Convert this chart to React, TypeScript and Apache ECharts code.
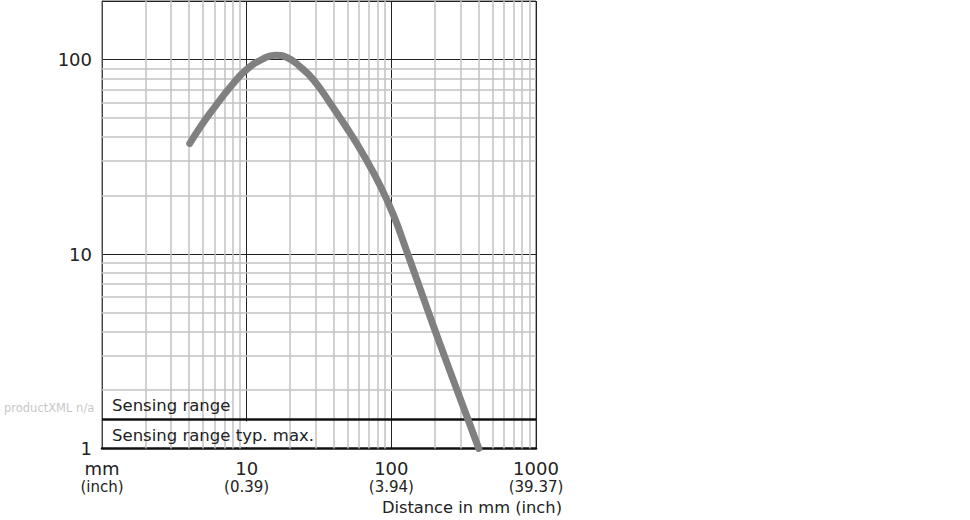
import React, { useEffect, useRef } from "react";
import * as echarts from "echarts";

// Curve: distance (mm) vs. relative value
const distanceMm = [4.04, 4.78, 5.91, 7.71, 10, 13.1, 15.8, 19.0, 23.5, 29.1, 37.9, 49.5, 64.4, 84.1, 104, 128.6, 204, 340, 402];
const rangeValue = [37.0, 45.0, 56.0, 72.3, 88.9, 101.2, 105.2, 102.4, 91.6, 78.3, 59.4, 44.2, 32.2, 22.3, 15.7, 10.2, 3.9, 1.4, 1.0];

// Axis ticks
const xTickValues = [1, 10, 100, 1000];
const xTickMm = ["mm", "10", "100", "1000"];
const xTickInch = ["(inch)", "(0.39)", "(3.94)", "(39.37)"];
const yTickValues = [1, 10, 100];
const yTickLabels = ["1", "10", "100"];

// Minor grid lines
const xMinor = [2, 3, 4, 5, 6, 7, 8, 9, 20, 30, 40, 50, 60, 70, 80, 90, 200, 300, 400, 500, 600, 700, 800, 900];
const yMinor = [2, 3, 4, 5, 6, 7, 8, 9, 20, 30, 40, 50, 60, 70, 80, 90];

// Sensing range boundary
const sensingRangeLimit = 1.41;

const FONT = "DejaVu Sans";

function findIdx(ticks: number[], v: number) {
  for (let i = 0; i < ticks.length; i++) {
    if (Math.abs(Math.log10(v) - Math.log10(ticks[i])) < 1e-6) return i;
  }
  return -1;
}

export default function App() {
  const ref = useRef<HTMLDivElement>(null);
  useEffect(() => {
    if (!ref.current) return;
    const chart = echarts.init(ref.current, null, { renderer: "svg" });
    const curve = distanceMm.map((x, i) => [x, rangeValue[i]]);
    chart.setOption({
      animation: false,
      grid: {
        left: 102,
        top: 1,
        width: 434,
        height: 447.5,
        show: true,
        borderColor: "#555",
        borderWidth: 1,
        backgroundColor: "#fff",
      },
      xAxis: {
        type: "log",
        logBase: 10,
        min: 1,
        max: 1000,
        axisLine: { show: true, onZero: false, lineStyle: { color: "#111", width: 2.5 } },
        axisTick: { show: false },
        splitLine: { show: true, lineStyle: { color: "#222", width: 1 } },
        axisLabel: {
          margin: 10,
          showMinLabel: true,
          showMaxLabel: true,
          formatter: (v: number) => {
            const i = findIdx(xTickValues, v);
            if (i < 0) return "";
            return `{a|${xTickMm[i]}}\n{b|${xTickInch[i]}}`;
          },
          rich: {
            a: { fontSize: 18, lineHeight: 20, color: "#222", fontFamily: FONT },
            b: { fontSize: 15, lineHeight: 17, color: "#222", fontFamily: FONT },
          },
        },
      },
      yAxis: {
        type: "log",
        logBase: 10,
        min: 1,
        max: 200,
        axisLine: { show: true, lineStyle: { color: "#444", width: 1 } },
        axisTick: { show: false },
        splitLine: { show: true, lineStyle: { color: "#222", width: 1 } },
        axisLabel: {
          margin: 10,
          fontSize: 18,
          color: "#222",
          fontFamily: FONT,
          formatter: (v: number) => {
            const i = findIdx(yTickValues, v);
            return i < 0 ? "" : yTickLabels[i];
          },
        },
      },
      series: [
        {
          type: "line",
          data: [],
          z: 1,
          silent: true,
          markLine: {
            silent: true,
            symbol: ["none", "none"],
            label: { show: false },
            lineStyle: { color: "#c2c2c2", width: 1.5, type: "solid" },
            data: [
              ...xMinor.map((v) => ({ xAxis: v })),
              ...yMinor.map((v) => ({ yAxis: v })),
            ],
          },
        },
        {
          type: "line",
          data: curve,
          z: 10,
          smooth: 0.5,
          showSymbol: false,
          silent: true,
          lineStyle: { color: "#808080", width: 7, cap: "round", join: "round" },
          markLine: {
            silent: true,
            symbol: ["none", "none"],
            label: { show: false },
            lineStyle: { color: "#111", width: 2.5, type: "solid" },
            data: [{ yAxis: sensingRangeLimit }],
          },
        },
      ],
      graphic: [
        { type: "rect", z: 5, shape: { x: 103, y: 392, width: 134, height: 26 }, style: { fill: "#fff" } },
        { type: "rect", z: 5, shape: { x: 103, y: 421.5, width: 210, height: 25.5 }, style: { fill: "#fff" } },
        {
          type: "text", z: 6, x: 112, y: 405,
          style: { text: "Sensing range", fill: "#222", fontSize: 16.5, fontFamily: FONT, align: "left", verticalAlign: "middle" },
        },
        {
          type: "text", z: 6, x: 112, y: 435,
          style: { text: "Sensing range typ. max.", fill: "#222", fontSize: 16.5, fontFamily: FONT, align: "left", verticalAlign: "middle" },
        },
        {
          type: "text", z: 6, x: 562, y: 507.5,
          style: { text: "Distance in mm (inch)", fill: "#222", fontSize: 16.3, fontFamily: FONT, align: "right", verticalAlign: "middle" },
        },
        {
          type: "text", z: 6, x: 4, y: 408,
          style: { text: "productXML n/a", fill: "#c8c8c8", fontSize: 11.5, fontFamily: FONT, align: "left", verticalAlign: "middle" },
        },
      ],
    });
    return () => chart.dispose();
  }, []);
  return <div ref={ref} style={{ position: "fixed", left: 0, top: 0, width: 970, height: 520, background: "#fff" }} />;
}
